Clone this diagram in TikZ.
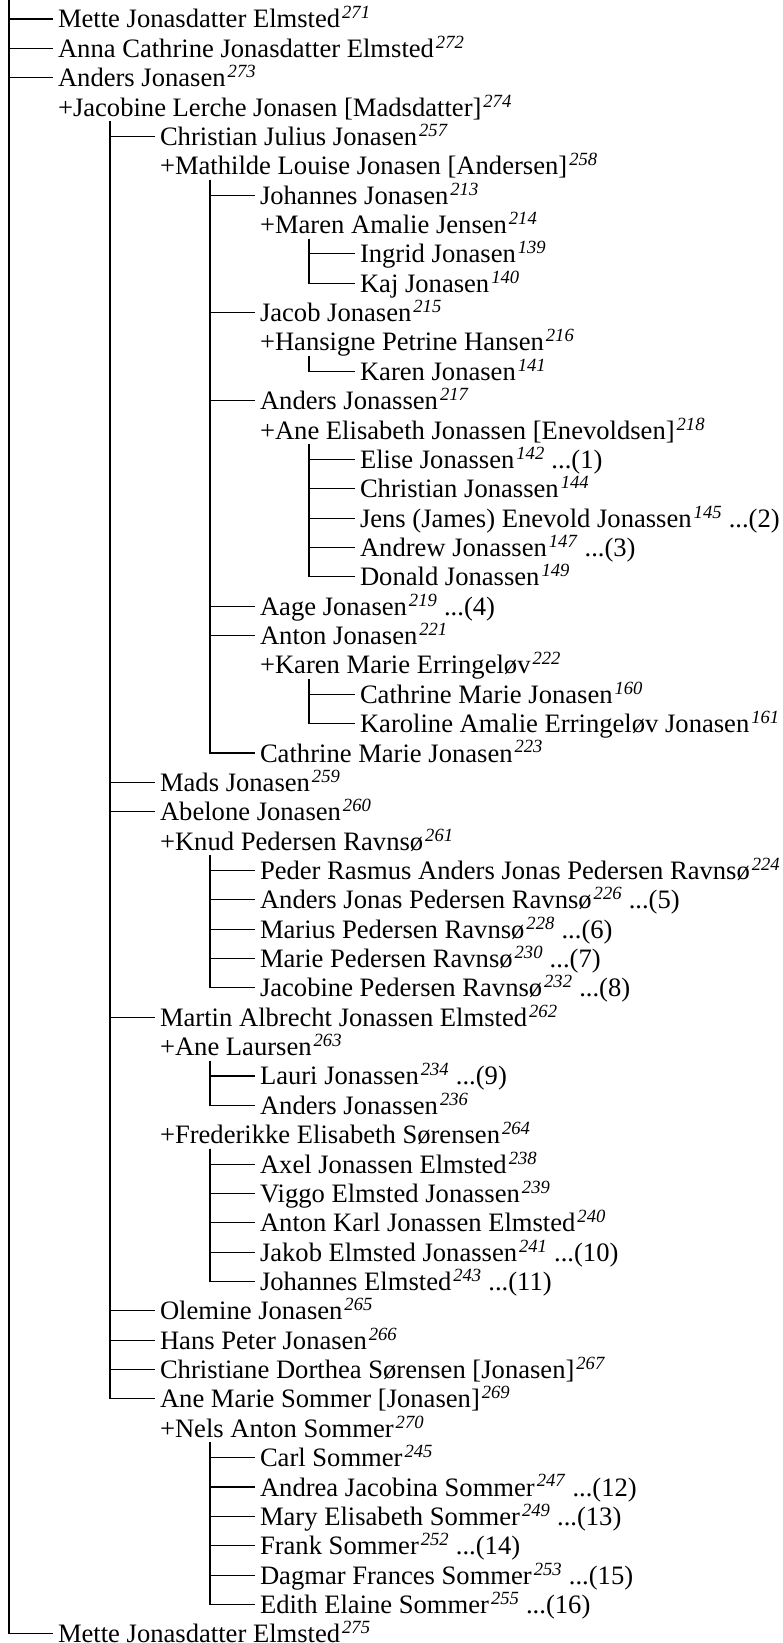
\documentclass[tikz,border=0pt]{standalone}
\usepackage{fontspec}
\setmainfont{Liberation Serif}
\newcommand{\nr}[1]{\textsuperscript{\kern2pt\textit{#1}}}
\begin{document}
\begin{tikzpicture}[x=1pt, y=-29.36pt, line width=1.1pt,
  person/.style={anchor=base west, inner xsep=5pt, inner ysep=0pt, outer sep=0pt, text height=20pt, text depth=2pt, font=\fontsize{26.6}{30}\selectfont}]
	\useasboundingbox (0pt,-1.36pt) rectangle (783pt,-1644.36pt);
	% persons, one per row
	\node[person] (r1) at (53,1) {Mette Jonasdatter Elmsted\nr{271}};
	\node[person] (r2) at (53,2) {Anna Cathrine Jonasdatter Elmsted\nr{272}};
	\node[person] (r3) at (53,3) {Anders Jonasen\nr{273}};
	\node[person] (r4) at (53,4) {+Jacobine Lerche Jonasen [Madsdatter]\nr{274}};
	\node[person] (r5) at (155,5) {Christian Julius Jonasen\nr{257}};
	\node[person] (r6) at (155,6) {+Mathilde Louise Jonasen [Andersen]\nr{258}};
	\node[person] (r7) at (255,7) {Johannes Jonasen\nr{213}};
	\node[person] (r8) at (255,8) {+Maren Amalie Jensen\nr{214}};
	\node[person] (r9) at (355,9) {Ingrid Jonasen\nr{139}};
	\node[person] (r10) at (355,10) {Kaj Jonasen\nr{140}};
	\node[person] (r11) at (255,11) {Jacob Jonasen\nr{215}};
	\node[person] (r12) at (255,12) {+Hansigne Petrine Hansen\nr{216}};
	\node[person] (r13) at (355,13) {Karen Jonasen\nr{141}};
	\node[person] (r14) at (255,14) {Anders Jonassen\nr{217}};
	\node[person] (r15) at (255,15) {+Ane Elisabeth Jonassen [Enevoldsen]\nr{218}};
	\node[person] (r16) at (355,16) {Elise Jonassen\nr{142} ...(1)};
	\node[person] (r17) at (355,17) {Christian Jonassen\nr{144}};
	\node[person] (r18) at (355,18) {Jens (James) Enevold Jonassen\nr{145} ...(2)};
	\node[person] (r19) at (355,19) {Andrew Jonassen\nr{147} ...(3)};
	\node[person] (r20) at (355,20) {Donald Jonassen\nr{149}};
	\node[person] (r21) at (255,21) {Aage Jonasen\nr{219} ...(4)};
	\node[person] (r22) at (255,22) {Anton Jonasen\nr{221}};
	\node[person] (r23) at (255,23) {+Karen Marie Erringeløv\nr{222}};
	\node[person] (r24) at (355,24) {Cathrine Marie Jonasen\nr{160}};
	\node[person] (r25) at (355,25) {Karoline Amalie Erringeløv Jonasen\nr{161}};
	\node[person] (r26) at (255,26) {Cathrine Marie Jonasen\nr{223}};
	\node[person] (r27) at (155,27) {Mads Jonasen\nr{259}};
	\node[person] (r28) at (155,28) {Abelone Jonasen\nr{260}};
	\node[person] (r29) at (155,29) {+Knud Pedersen Ravnsø\nr{261}};
	\node[person] (r30) at (255,30) {Peder Rasmus Anders Jonas Pedersen Ravnsø\nr{224}};
	\node[person] (r31) at (255,31) {Anders Jonas Pedersen Ravnsø\nr{226} ...(5)};
	\node[person] (r32) at (255,32) {Marius Pedersen Ravnsø\nr{228} ...(6)};
	\node[person] (r33) at (255,33) {Marie Pedersen Ravnsø\nr{230} ...(7)};
	\node[person] (r34) at (255,34) {Jacobine Pedersen Ravnsø\nr{232} ...(8)};
	\node[person] (r35) at (155,35) {Martin Albrecht Jonassen Elmsted\nr{262}};
	\node[person] (r36) at (155,36) {+Ane Laursen\nr{263}};
	\node[person] (r37) at (255,37) {Lauri Jonassen\nr{234} ...(9)};
	\node[person] (r38) at (255,38) {Anders Jonassen\nr{236}};
	\node[person] (r39) at (155,39) {+Frederikke Elisabeth Sørensen\nr{264}};
	\node[person] (r40) at (255,40) {Axel Jonassen Elmsted\nr{238}};
	\node[person] (r41) at (255,41) {Viggo Elmsted Jonassen\nr{239}};
	\node[person] (r42) at (255,42) {Anton Karl Jonassen Elmsted\nr{240}};
	\node[person] (r43) at (255,43) {Jakob Elmsted Jonassen\nr{241} ...(10)};
	\node[person] (r44) at (255,44) {Johannes Elmsted\nr{243} ...(11)};
	\node[person] (r45) at (155,45) {Olemine Jonasen\nr{265}};
	\node[person] (r46) at (155,46) {Hans Peter Jonasen\nr{266}};
	\node[person] (r47) at (155,47) {Christiane Dorthea Sørensen [Jonasen]\nr{267}};
	\node[person] (r48) at (155,48) {Ane Marie Sommer [Jonasen]\nr{269}};
	\node[person] (r49) at (155,49) {+Nels Anton Sommer\nr{270}};
	\node[person] (r50) at (255,50) {Carl Sommer\nr{245}};
	\node[person] (r51) at (255,51) {Andrea Jacobina Sommer\nr{247} ...(12)};
	\node[person] (r52) at (255,52) {Mary Elisabeth Sommer\nr{249} ...(13)};
	\node[person] (r53) at (255,53) {Frank Sommer\nr{252} ...(14)};
	\node[person] (r54) at (255,54) {Dagmar Frances Sommer\nr{253} ...(15)};
	\node[person] (r55) at (255,55) {Edith Elaine Sommer\nr{255} ...(16)};
	\node[person] (r56) at (53,56) {Mette Jonasdatter Elmsted\nr{275}};
	% branch lines
	\coordinate (v0) at (9,-0.2);
	\coordinate (v4) at (110,4.17);
	\coordinate (v6) at (210,6.17);
	\coordinate (v8) at (309,8.17);
	\coordinate (v12) at (309,12.17);
	\coordinate (v15) at (309,15.17);
	\coordinate (v23) at (309,23.17);
	\coordinate (v29) at (210,29.17);
	\coordinate (v36) at (210,36.17);
	\coordinate (v39) at (210,39.17);
	\coordinate (v49) at (210,49.17);
	\foreach \p/\kids in {0/{1,2,3,56}, 4/{5,27,28,35,45,46,47,48}, 6/{7,11,14,21,22,26}, 8/{9,10}, 12/{13}, 15/{16,17,18,19,20}, 23/{24,25}, 29/{30,31,32,33,34}, 36/{37,38}, 39/{40,41,42,43,44}, 49/{50,51,52,53,54,55}}
		\foreach \c in \kids
			\draw (v\p) |- (r\c.west);
\end{tikzpicture}
\end{document}
